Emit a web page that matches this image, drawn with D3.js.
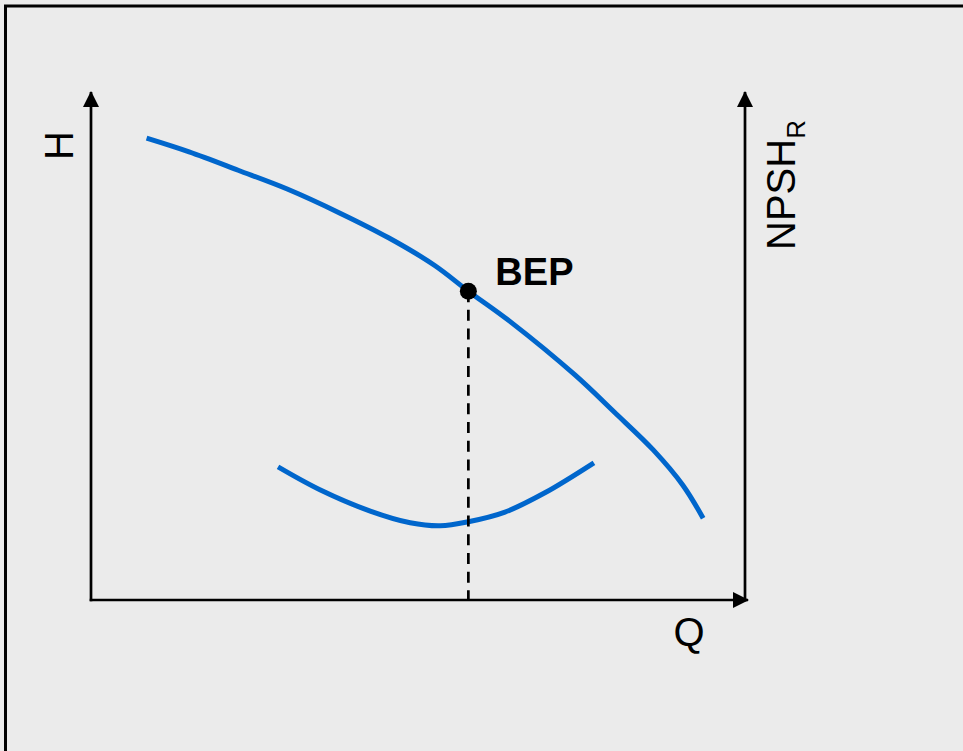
<!DOCTYPE html>
<html>
<head>
<meta charset="utf-8">
<script src="https://cdn.jsdelivr.net/npm/d3@7"></script>
<style>
  body { margin: 0; background: #ebebeb; }
  svg { display: block; }
</style>
</head>
<body>
<div id="chart"></div>
<script>
// pump curve sketch: head H and NPSHr against flow Q (arbitrary units 0..10)

const headQ = [0.85, 1.5, 2.25, 3.0, 3.8, 4.55, 5.25, 5.77, 6.4, 7.4, 8.0, 8.6, 9.05, 9.36]
const headH = [9.09, 8.82, 8.46, 8.09, 7.62, 7.13, 6.59, 6.08, 5.49, 4.43, 3.70, 2.95, 2.26, 1.61]

const npshQ = [2.86, 3.5, 4.27, 4.88, 5.34, 5.77, 6.33, 6.94, 7.69]
const npshH = [2.62, 2.17, 1.75, 1.52, 1.46, 1.54, 1.73, 2.11, 2.70]

const bepQ = 5.77
const bepH = 6.08

const W = 963, H = 751
const blue = '#0066cc'

const svg = d3.select('#chart').append('svg')
    .attr('width', W).attr('height', H)

// page frame, right and bottom edges run off the picture
svg.append('rect')
    .attr('x', 5.5).attr('y', 6)
    .attr('width', 1000).attr('height', 1000)
    .attr('fill', '#ebebeb')
    .attr('stroke', '#000').attr('stroke-width', 3)

const x = d3.scaleLinear().domain([0, 10]).range([91, 745])
const y = d3.scaleLinear().domain([0, 10]).range([600, 92])

// arrow head marker
svg.append('defs').append('marker')
    .attr('id', 'arrow')
    .attr('viewBox', '0 0 16 16')
    .attr('refX', 15).attr('refY', 8)
    .attr('markerWidth', 16).attr('markerHeight', 16)
    .attr('markerUnits', 'userSpaceOnUse')
    .attr('orient', 'auto')
    .append('path')
    .attr('d', 'M0,0 L16,8 L0,16 Z')
    .attr('fill', '#000')

const axisStyle = sel => sel.attr('stroke', '#000').attr('stroke-width', 2.7)
    .attr('fill', 'none').attr('marker-end', 'url(#arrow)')

// left H axis
svg.append('line')
    .attr('x1', x(0)).attr('y1', y(0) + 1.3)
    .attr('x2', x(0)).attr('y2', y(10))
    .call(axisStyle)
// Q axis
svg.append('line')
    .attr('x1', x(0) - 1.3).attr('y1', y(0))
    .attr('x2', x(10) + 3).attr('y2', y(0))
    .call(axisStyle)
// right NPSH axis
svg.append('line')
    .attr('x1', x(10)).attr('y1', y(0) + 1.3)
    .attr('x2', x(10)).attr('y2', y(10))
    .call(axisStyle)

const line = d3.line()
    .x(d => x(d[0]))
    .y(d => y(d[1]))
    .curve(d3.curveCatmullRom)

svg.append('path')
    .datum(d3.zip(headQ, headH))
    .attr('d', line)
    .attr('fill', 'none').attr('stroke', blue).attr('stroke-width', 5)

svg.append('path')
    .datum(d3.zip(npshQ, npshH))
    .attr('d', line)
    .attr('fill', 'none').attr('stroke', blue).attr('stroke-width', 5)

// BEP drop line and point
svg.append('line')
    .attr('x1', x(bepQ)).attr('y1', y(bepH))
    .attr('x2', x(bepQ)).attr('y2', y(0))
    .attr('stroke', '#000').attr('stroke-width', 2.7)
    .attr('stroke-dasharray', '11,7.7')

svg.append('circle')
    .attr('cx', x(bepQ)).attr('cy', y(bepH))
    .attr('r', 8.5).attr('fill', '#000')

const font = 'Liberation Sans, Arial, sans-serif'

svg.append('text')
    .attr('x', x(bepQ) + 27).attr('y', y(bepH) - 6)
    .attr('font-family', font).attr('font-size', 38).attr('font-weight', 'bold')
    .text('BEP')

// axis labels
svg.append('text')
    .attr('transform', 'translate(' + (x(0) - 18) + ',' + 145.5 + ') rotate(-90)')
    .attr('text-anchor', 'middle')
    .attr('font-family', font).attr('font-size', 40)
    .text('H')

svg.append('text')
    .attr('x', x(10) - 56).attr('y', y(0) + 46)
    .attr('text-anchor', 'middle')
    .attr('font-family', font).attr('font-size', 40)
    .text('Q')

const npsh = svg.append('text')
    .attr('transform', 'translate(' + (x(10) + 50) + ',' + 250 + ') rotate(-90)')
    .attr('font-family', font).attr('font-size', 40)
npsh.append('tspan').text('NPSH')
npsh.append('tspan').attr('font-size', 26).attr('dy', 10).text('R')
</script>
</body>
</html>
